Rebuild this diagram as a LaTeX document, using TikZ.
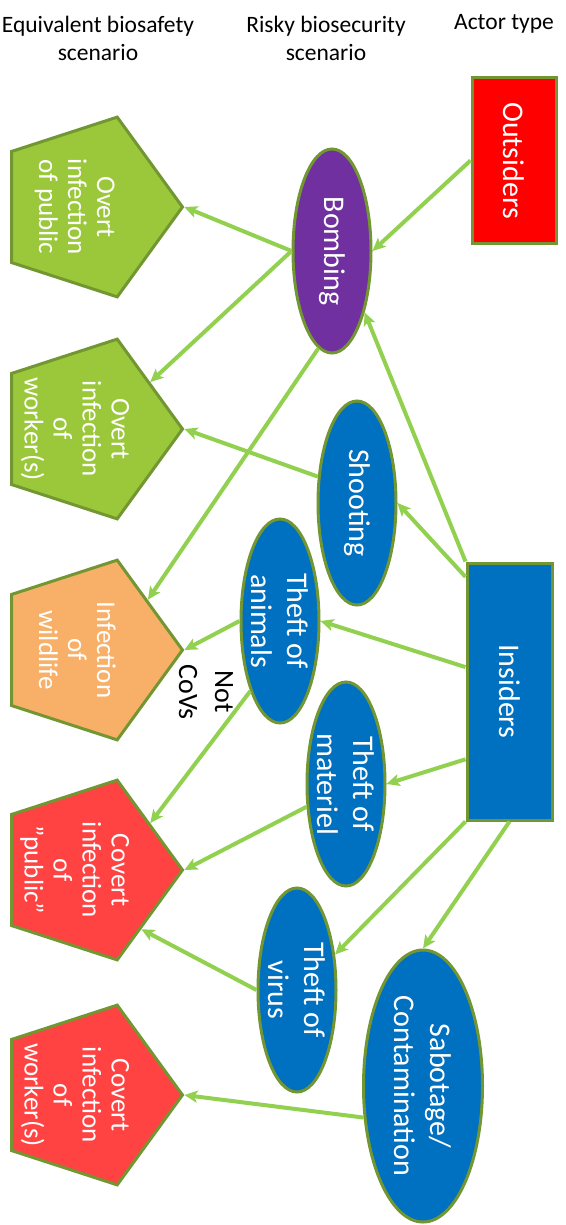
\documentclass[tikz,border=0pt]{standalone}
\usepackage{fontspec}
\setmainfont{Carlito}
\usetikzlibrary{shapes.geometric,arrows.meta}
\definecolor{leaf}{RGB}{146,208,80}
\definecolor{olive}{RGB}{113,150,50}
\definecolor{ocean}{RGB}{0,112,192}
\definecolor{plum}{RGB}{112,48,160}
\definecolor{grass}{RGB}{154,200,58}
\definecolor{peach}{RGB}{248,176,104}
\definecolor{coral}{RGB}{255,67,67}

\begin{document}
\begin{tikzpicture}[
  x=1pt, y=-1pt,
  head/.style={align=center, font=\fontsize{23.5}{28}\selectfont},
  act/.style={rectangle, draw=olive, line width=3pt, rotate=-90, text=white,
              font=\fontsize{30}{36}\selectfont},
  scen/.style={ellipse, draw=olive, line width=3pt, rotate=-90, align=center,
               fill=ocean, text=white, inner xsep=0pt, inner ysep=-4pt,
               minimum width=204pt, minimum height=78pt,
               font=\fontsize{30}{36}\selectfont},
  safe/.style={regular polygon, regular polygon sides=5, draw=olive, line width=3pt,
               rotate=-90, align=center, text=white, inner sep=-20pt,
               text height=127pt, text depth=0pt,
               minimum size=189pt, font=\fontsize{27}{29}\selectfont},
  arr/.style={leaf, line width=4pt, -{Stealth[length=13pt, width=12pt, inset=3pt]}}]
  \useasboundingbox (0,0) rectangle (565,1225);
  \node[head] (hsafe) at (98,38) {Equivalent biosafety\\scenario};
  \node[head] (hsec) at (326,38) {Risky biosecurity\\scenario};
  \node[head] (hact) at (504,24) {Actor type};
  \node[act, fill=red, minimum width=165pt, minimum height=84pt] (out) at (514,160.5) {Outsiders};
  \node[act, fill=ocean, minimum width=257pt, minimum height=85pt] (ins) at (509.5,691.5) {Insiders};
  \node[scen, fill=plum] (bomb) at (332,251) {Bombing};
  \node[scen] (shoot) at (357,503) {Shooting};
  \node[scen] (anim) at (280,621) {Theft of\\animals};
  \node[scen] (mat) at (346,784) {Theft of\\materiel};
  \node[scen] (virus) at (297,990) {Theft of\\virus};
  \node[scen, minimum width=272pt, minimum height=119pt] (sab) at (423,1086) {Sabotage/\\Contamination};
  \node[safe, fill=grass, text height=98pt] (opub) at (88,207) {Overt\\infection\\of public};
  \node[safe, fill=grass] (owork) at (88,429) {Overt\\infection\\of\\worker(s)};
  \node[safe, fill=peach, text height=98pt] (wild) at (88,650) {Infection\\of\\wildlife};
  \node[safe, fill=coral] (cpub) at (88,870) {Covert\\infection\\of\\”public”};
  \node[safe, fill=coral] (cwork) at (88,1095) {Covert\\infection\\of\\worker(s)};
  \node[rotate=-90, align=center, font=\fontsize{28}{36}\selectfont] (notcov) at (206,692) {Not\\CoVs};
  \draw[arr] (out.south) -- (bomb.north);
  \draw[arr] (bomb.south) -- (opub.corner 1);
  \draw[arr] (bomb.south) -- (owork.127);
  \draw[arr] (bomb.352) -- (wild.130);
  \draw[arr] (shoot.236) -- (owork.corner 1);
  \draw[arr] (ins.south west) -- (bomb.28);
  \draw[arr] (ins.201) -- (shoot.north);
  \draw[arr] (ins.241) -- (anim.north);
  \draw[arr] (ins.327) -- (mat.north);
  \draw[arr] (ins.south east) -- (virus.133);
  \draw[arr] (ins.east) -- (sab.west);
  \draw[arr] (anim.south) -- (wild.corner 1);
  \draw[arr] (anim.337) -- (cpub.127);
  \draw[arr] (mat.300) -- (cpub.corner 1);
  \draw[arr] (virus.south) -- (cpub.42);
  \draw[arr] (sab.298) -- (cwork.corner 1);
\end{tikzpicture}
\end{document}
